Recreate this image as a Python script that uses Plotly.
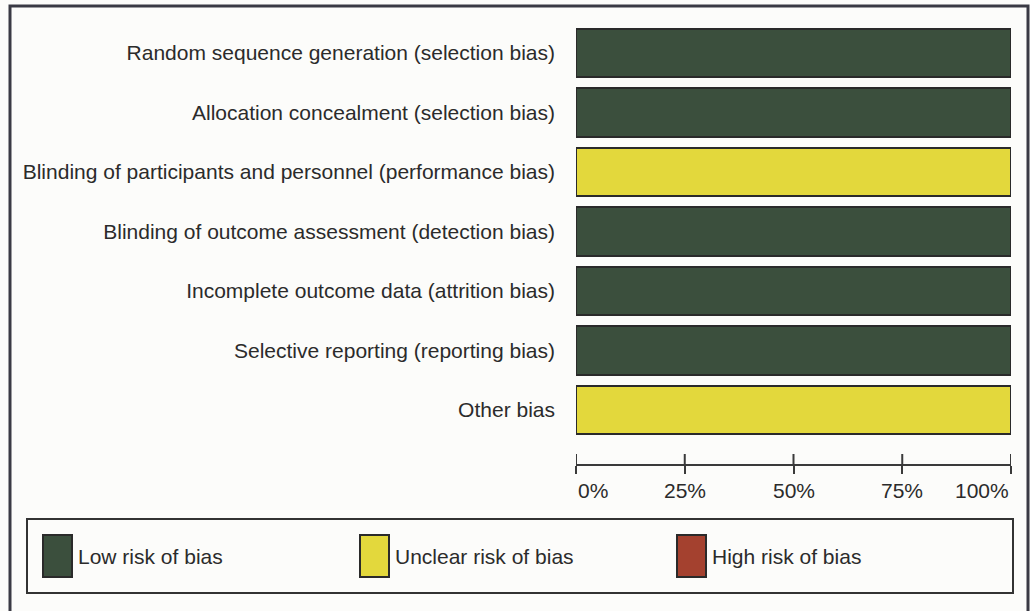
import plotly.graph_objects as go

categories = [
    "Random sequence generation (selection bias)",
    "Allocation concealment (selection bias)",
    "Blinding of participants and personnel (performance bias)",
    "Blinding of outcome assessment (detection bias)",
    "Incomplete outcome data (attrition bias)",
    "Selective reporting (reporting bias)",
    "Other bias",
]
low_risk = [100, 100, 0, 100, 100, 100, 0]
unclear_risk = [0, 0, 100, 0, 0, 0, 100]
high_risk = [0, 0, 0, 0, 0, 0, 0]
series_names = ["Low risk of bias", "Unclear risk of bias", "High risk of bias"]
tick_values = [0, 25, 50, 75, 100]
tick_labels = ["0%", "25%", "50%", "75%", "100%"]

W, H = 1030, 611
FONT = "Liberation Sans, Arial, sans-serif"
FS = 21
TXT = "#2b2b2b"
EDGE = "#2a2a2a"
colors = ["#3b4f3d", "#e3d83c", "#a4412f"]


def px(x):
    return x / W


def py(y):
    return 1 - y / H


fig = go.Figure()
for name, vals, col in zip(series_names, [low_risk, unclear_risk, high_risk], colors):
    fig.add_trace(go.Bar(
        y=categories,
        x=[v if v else None for v in vals],
        orientation="h",
        name=name,
        marker=dict(color=col, line=dict(color=EDGE, width=2)),
        showlegend=False,
        hoverinfo="skip",
    ))

axis_y = 465
fig.update_layout(
    width=W, height=H,
    margin=dict(l=0, r=0, t=0, b=0, autoexpand=False),
    paper_bgcolor="#fcfcfa",
    plot_bgcolor="rgba(0,0,0,0)",
    barmode="stack",
    bargap=0.19,
    font=dict(family=FONT, size=FS, color=TXT),
    xaxis=dict(
        domain=[px(576), px(1011)],
        range=[0, 100],
        anchor="free", position=py(axis_y),
        showline=True, linecolor="#3a3a3a", linewidth=2,
        ticks="outside", ticklen=8, tickwidth=2, tickcolor="#3a3a3a",
        tickvals=tick_values, showticklabels=False,
        showgrid=False, zeroline=False, fixedrange=True, automargin=False,
    ),
    yaxis=dict(
        domain=[py(439.75), py(23.25)],
        categoryorder="array", categoryarray=categories,
        autorange="reversed",
        showgrid=False, zeroline=False, showline=False,
        ticks="", ticklabelstandoff=20,
        tickfont=dict(family=FONT, size=FS, color=TXT),
        fixedrange=True, automargin=False,
    ),
)

shapes = []
# upper half of the axis tick marks and the tick labels
for v, t in zip(tick_values, tick_labels):
    shapes.append(dict(type="line", xref="x", yref="paper", x0=v, x1=v,
                       y0=py(axis_y), y1=py(axis_y - 11),
                       line=dict(color="#3a3a3a", width=2)))
    anchor = "left" if v == tick_values[0] else ("right" if v == tick_values[-1] else "center")
    fig.add_annotation(x=v, xref="x", y=py(490), yref="paper", text=t,
                       showarrow=False, xanchor=anchor, yanchor="middle",
                       font=dict(family=FONT, size=FS, color=TXT))

# outer frame
shapes.append(dict(type="rect", xref="paper", yref="paper",
                   x0=px(10), x1=px(1028), y0=py(640), y1=py(6),
                   line=dict(color="#3a3a44", width=3)))
# legend box
shapes.append(dict(type="rect", xref="paper", yref="paper",
                   x0=px(27), x1=px(1013), y0=py(593), y1=py(519),
                   line=dict(color="#333333", width=2)))
legend_x = [43, 360, 677]
for lx, name, col in zip(legend_x, series_names, colors):
    shapes.append(dict(type="rect", xref="paper", yref="paper",
                       x0=px(lx), x1=px(lx + 29), y0=py(577), y1=py(535),
                       fillcolor=col, line=dict(color=EDGE, width=2)))
    fig.add_annotation(x=px(lx + 33), xref="paper", y=py(556), yref="paper",
                       text=name, showarrow=False, xanchor="left", yanchor="middle",
                       font=dict(family=FONT, size=FS, color=TXT))
fig.update_layout(shapes=shapes)

fig.write_html("out.html",
               config={"displayModeBar": False},
               post_script="document.body.style.margin='0px';document.body.style.overflow='hidden';")
